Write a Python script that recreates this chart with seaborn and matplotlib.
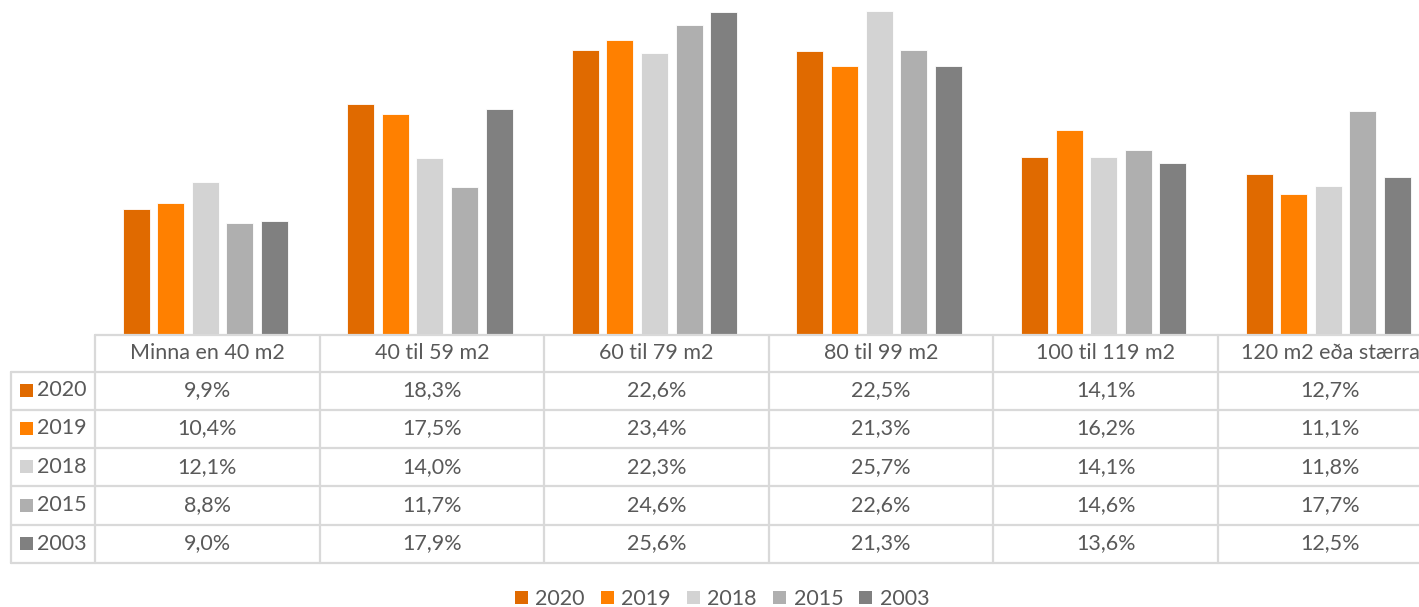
import matplotlib
matplotlib.use("Agg")
import matplotlib.pyplot as plt
from matplotlib.lines import Line2D
from matplotlib.patches import Rectangle, Patch
import seaborn as sns
import pandas as pd

categories = ["Minna en 40 m2", "40 til 59 m2", "60 til 79 m2", "80 til 99 m2",
              "100 til 119 m2", "120 m2 eða stærra"]
years = ["2020", "2019", "2018", "2015", "2003"]
v2020 = [9.9, 18.3, 22.6, 22.5, 14.1, 12.7]
v2019 = [10.4, 17.5, 23.4, 21.3, 16.2, 11.1]
v2018 = [12.1, 14.0, 22.3, 25.7, 14.1, 11.8]
v2015 = [8.8, 11.7, 24.6, 22.6, 14.6, 17.7]
v2003 = [9.0, 17.9, 25.6, 21.3, 13.6, 12.5]
series = {"2020": v2020, "2019": v2019, "2018": v2018, "2015": v2015, "2003": v2003}
colors = ["#E06A00", "#FF8000", "#D3D3D3", "#AFAFAF", "#808080"]

rows = []
for y in years:
    for c, v in zip(categories, series[y]):
        rows.append({"cat": c, "year": y, "val": v})
df = pd.DataFrame(rows)

W, H = 1419, 607
sns.set_theme(style="white")
plt.rcParams["font.family"] = ["Lato", "DejaVu Sans"]
TXT = "#595959"
GRID = "#D9D9D9"
FS = 15.5

fig = plt.figure(figsize=(W / 100, H / 100), dpi=100)

x0 = 95
colw = 224.6
ax_top = 0
ax_bot = 334
ax = fig.add_axes([(x0 - 2) / W, (H - ax_bot) / H, 6 * colw / W, (ax_bot - ax_top) / H])
sns.barplot(data=df, x="cat", y="val", hue="year", hue_order=years, order=categories,
            palette=colors, saturation=1, width=0.77, gap=0.22, legend=False, ax=ax,
            edgecolor="white", linewidth=0.6)
ax.set_xlim(-0.5, 5.5)
ax.set_ylim(0, 334 / 12.58)
ax.set_axis_off()

def fx(px):
    return px / W

def fy(py):
    return (H - py) / H

def hline(y, xa, xb):
    fig.add_artist(Line2D([fx(xa), fx(xb)], [fy(y), fy(y)], color=GRID, lw=1.6,
                          transform=fig.transFigure))

def vline(x, ya, yb):
    fig.add_artist(Line2D([fx(x), fx(x)], [fy(ya), fy(yb)], color=GRID, lw=1.6,
                          transform=fig.transFigure))

row_y = [334.5, 371.5, 409.5, 447.5, 486, 524.5, 562.5]
left_x = 11.5
right_x = W + 10
hline(row_y[0], x0, right_x)
for yy in row_y[1:]:
    hline(yy, left_x, right_x)
vline(left_x, row_y[1], row_y[-1])
for i in range(6):
    vline(x0 + i * colw, row_y[0], row_y[-1])

# header texts
for i, c in enumerate(categories):
    cx = x0 + (i + 0.5) * colw
    cy = (row_y[0] + row_y[1]) / 2
    fig.text(fx(cx), fy(cy), c, ha="center", va="center", fontsize=FS, color=TXT)

# rows
for r, y in enumerate(years):
    cy = (row_y[r + 1] + row_y[r + 2]) / 2
    fig.add_artist(Rectangle((fx(20), fy(cy + 6.5)), 13 / W, 13 / H, color=colors[r],
                             transform=fig.transFigure, lw=0))
    fig.text(fx(37), fy(cy), y, ha="left", va="center", fontsize=FS, color=TXT)
    for i, v in enumerate(series[y]):
        cx = x0 + (i + 0.5) * colw
        s = f"{v:.1f}%".replace(".", ",")
        fig.text(fx(cx), fy(cy), s, ha="center", va="center", fontsize=FS, color=TXT)

handles = [Patch(facecolor=c, edgecolor="none", label=y) for c, y in zip(colors, years)]
fig.legend(handles=handles, loc="center", bbox_to_anchor=(fx(722), fy(599)), ncol=5,
           frameon=False, fontsize=FS, labelcolor=TXT, handlelength=0.6,
           handleheight=0.6, handletextpad=0.35, columnspacing=0.75, borderpad=0)

fig.savefig("out.png", dpi=100)
